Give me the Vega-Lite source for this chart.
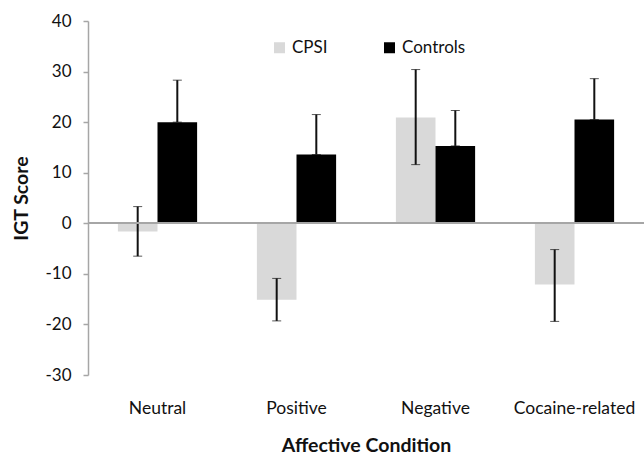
{
  "$schema": "https://vega.github.io/schema/vega-lite/v6.json",
  "autosize": "none",
  "width": 556,
  "height": 354,
  "padding": {"left": 88, "top": 21, "right": 0, "bottom": 79},
  "background": "white",
  "config": {
    "font": "Lato",
    "view": {"stroke": null}
  },
  "data": {
    "values": [
      {"condition": "Neutral", "group": "CPSI", "score": -1.6, "lo": -6.5, "hi": 3.3},
      {"condition": "Neutral", "group": "Controls", "score": 20.0, "lo": 20.0, "hi": 28.3},
      {"condition": "Positive", "group": "CPSI", "score": -15.1, "lo": -19.3, "hi": -10.9},
      {"condition": "Positive", "group": "Controls", "score": 13.6, "lo": 13.6, "hi": 21.5},
      {"condition": "Negative", "group": "CPSI", "score": 20.9, "lo": 11.6, "hi": 30.4},
      {"condition": "Negative", "group": "Controls", "score": 15.3, "lo": 15.3, "hi": 22.3},
      {"condition": "Cocaine-related", "group": "CPSI", "score": -12.1, "lo": -19.4, "hi": -5.2},
      {"condition": "Cocaine-related", "group": "Controls", "score": 20.5, "lo": 20.5, "hi": 28.6}
    ]
  },
  "encoding": {
    "x": {
      "field": "condition",
      "type": "nominal",
      "sort": ["Neutral", "Positive", "Negative", "Cocaine-related"],
      "scale": {"paddingInner": 0.43, "paddingOuter": 0.215},
      "axis": {
        "title": "Affective Condition",
        "domain": false,
        "ticks": false,
        "labelAngle": 0,
        "labelPadding": 24,
        "labelFontSize": 17.5,
        "labelColor": "#111",
        "titleFontSize": 19.5,
        "titleFontWeight": "bold",
        "titleColor": "#111",
        "titlePadding": 19.5
      }
    },
    "xOffset": {
      "field": "group",
      "type": "nominal",
      "sort": ["CPSI", "Controls"],
      "scale": {"paddingInner": 0, "paddingOuter": 0}
    }
  },
  "layer": [
    {
      "mark": {"type": "bar"},
      "encoding": {
        "y": {
          "field": "score",
          "type": "quantitative",
          "scale": {"domain": [-30, 40], "nice": false},
          "axis": {
            "title": "IGT Score",
            "values": [-30, -20, -10, 0, 10, 20, 30, 40],
            "labelExpr": "'' + datum.value",
            "grid": false,
            "domainColor": "#a6a6a6",
            "domainWidth": 1.5,
            "tickColor": "#a6a6a6",
            "tickSize": 5,
            "tickWidth": 1.5,
            "labelFontSize": 17,
            "labelColor": "#111",
            "labelPadding": 12,
            "titleFontSize": 19.5,
            "titleFontWeight": "bold",
            "titleColor": "#111",
            "titlePadding": 13
          }
        },
        "color": {
          "field": "group",
          "type": "nominal",
          "sort": ["CPSI", "Controls"],
          "scale": {"domain": ["CPSI", "Controls"], "range": ["#d9d9d9", "#000000"]},
          "legend": {
            "title": null,
            "orient": "none",
            "direction": "horizontal",
            "legendX": 183,
            "legendY": 18,
            "symbolType": "square",
            "symbolSize": 121,
            "symbolStrokeWidth": 0,
            "labelFontSize": 17,
            "labelColor": "#111",
            "labelOffset": 4,
            "columnPadding": 53
          }
        }
      }
    },
    {
      "mark": {
        "type": "errorbar",
        "ticks": {"size": 9, "color": "#111", "strokeWidth": 2},
        "rule": {"color": "#111", "strokeWidth": 2}
      },
      "encoding": {
        "y": {"field": "lo", "type": "quantitative", "title": "IGT Score"},
        "y2": {"field": "hi"}
      }
    },
    {
      "mark": {"type": "rule", "color": "#a6a6a6", "strokeWidth": 1.5},
      "encoding": {"y": {"datum": 0}, "xOffset": null, "x": null}
    }
  ]
}
